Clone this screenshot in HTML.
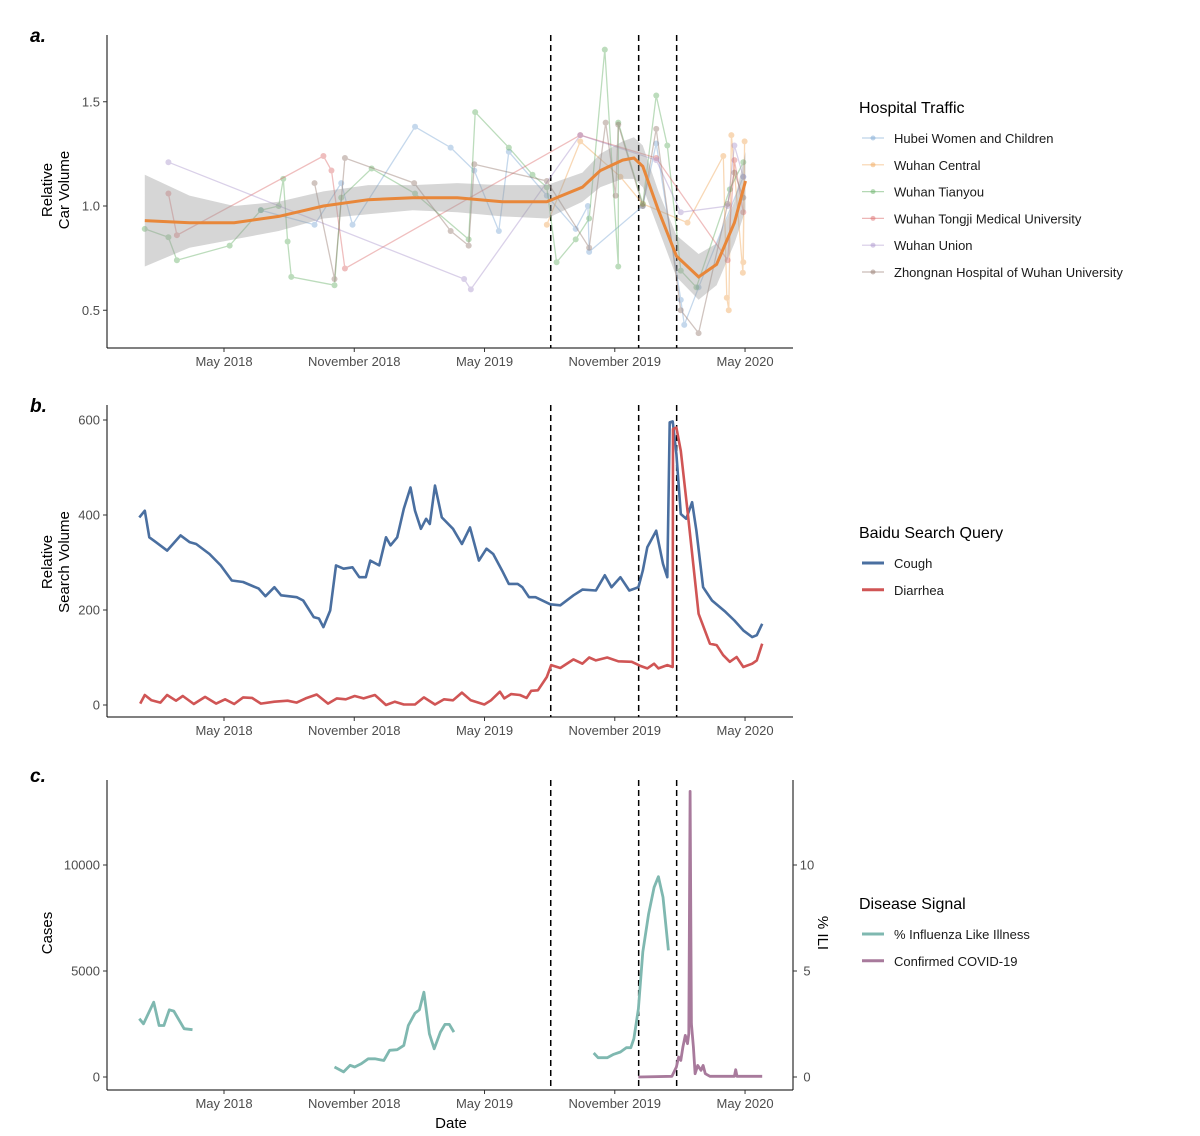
<!DOCTYPE html>
<html><head><meta charset="utf-8">
<style>
html,body{margin:0;padding:0;background:#fff;}
svg{display:block;font-family:"Liberation Sans",Arial,sans-serif;}
</style></head>
<body>
<svg id="chart" width="1200" height="1136" viewBox="0 0 1200 1136" xmlns="http://www.w3.org/2000/svg"></svg>
<script>
// ---------- DATA (t = months since 2018-01-01) ----------
const monthTicks = [4, 10, 16, 22, 28];
const monthTickLabels = ["May 2018", "November 2018", "May 2019", "November 2019", "May 2020"];
const eventMonths = [19.05, 23.1, 24.85];

// Panel a: hospital traffic
const hospNames = ["Hubei Women and Children","Wuhan Central","Wuhan Tianyou","Wuhan Tongji Medical University","Wuhan Union","Zhongnan Hospital of Wuhan University"];
const hubeiT = [5.70,8.17,9.40,9.92,12.8,14.44,15.53,16.66,17.12,18.87,20.2,20.76,20.82,23.29,23.91,25.04,25.2,25.86,27.92];
const hubeiV = [0.98,0.91,1.11,0.91,1.38,1.28,1.17,0.88,1.26,1.05,0.89,1.0,0.78,1.0,1.30,0.55,0.43,0.61,1.14];
const centralT = [18.87,20.41,22.26,23.29,25.35,27.0,27.16,27.25,27.37,27.9,27.98,27.92];
const centralV = [0.91,1.31,1.14,1.01,0.92,1.24,0.56,0.50,1.34,0.68,1.31,0.73];
const tianyouT = [0.35,1.44,1.83,4.26,5.70,6.52,6.73,6.93,7.1,9.09,9.40,10.8,12.8,15.27,15.57,17.12,18.21,18.87,19.32,20.2,20.82,21.54,22.16,22.16,23.29,23.91,24.42,25.04,25.76,27.3,27.92];
const tianyouV = [0.89,0.85,0.74,0.81,0.98,1.0,1.13,0.83,0.66,0.62,1.04,1.18,1.06,0.84,1.45,1.28,1.15,1.09,0.73,0.84,0.94,1.75,0.71,1.40,1.01,1.53,1.29,0.69,0.61,1.08,1.21];
const tongjiT = [1.44,1.83,8.58,8.95,9.57,20.41,23.91,27.2,27.51,27.92];
const tongjiV = [1.06,0.86,1.24,1.17,0.70,1.34,1.23,0.74,1.22,0.97];
const unionT = [1.44,15.06,15.37,20.41,23.91,25.04,27.2,27.51,27.92];
const unionV = [1.21,0.65,0.60,1.34,1.22,0.97,1.0,1.29,1.14];
const zhongnanT = [8.17,9.09,9.57,12.76,14.44,15.27,15.53,18.87,20.82,21.58,22.04,22.16,23.29,23.91,25.04,25.86,27.2,27.51,27.92];
const zhongnanV = [1.11,0.65,1.23,1.11,0.88,0.81,1.20,1.12,0.80,1.40,1.05,1.39,1.0,1.37,0.50,0.39,1.01,1.16,1.04];
const fitT = [0.35,2.41,4.47,6.52,8.58,10.64,12.69,14.75,16.81,18.87,20.51,21.33,22.36,22.88,23.29,24.01,24.84,25.86,26.69,27.51,28.02];
const fitV = [0.93,0.92,0.92,0.95,1.0,1.03,1.04,1.04,1.02,1.02,1.09,1.17,1.22,1.23,1.19,0.98,0.76,0.66,0.72,0.92,1.12];
const fitUpper = [1.15,1.05,1.0,1.02,1.07,1.10,1.10,1.11,1.10,1.10,1.16,1.25,1.31,1.33,1.29,1.07,0.86,0.77,0.82,1.02,1.26];
const fitLower = [0.71,0.80,0.84,0.88,0.94,0.96,0.98,0.97,0.95,0.94,1.02,1.09,1.13,1.13,1.09,0.89,0.66,0.55,0.62,0.82,0.98];
const aTicks = [0.5, 1.0, 1.5];

// Panel b: Baidu search
const coughT = [0.10,0.35,0.56,0.86,1.38,2.00,2.41,2.72,3.33,3.85,4.36,4.88,5.60,5.91,6.32,6.63,7.35,7.65,8.13,8.37,8.58,8.89,9.16,9.51,9.92,10.23,10.53,10.74,11.15,11.46,11.67,11.98,12.28,12.59,12.80,13.07,13.31,13.48,13.72,14.03,14.55,14.96,15.33,15.74,16.09,16.40,16.81,17.12,17.53,17.74,18.05,18.35,19.03,19.49,20.10,20.51,21.13,21.54,21.85,22.26,22.67,23.09,23.29,23.50,23.91,24.22,24.42,24.53,24.67,24.84,25.04,25.29,25.56,25.76,26.07,26.48,27.10,27.51,27.92,28.33,28.54,28.79];
const coughV = [395,409,353,343,325,357,343,339,318,294,262,259,245,229,248,231,227,220,185,182,164,199,294,287,290,269,269,304,294,353,336,353,413,458,409,371,392,381,462,395,371,339,374,304,329,318,283,255,255,248,227,227,212,210,231,243,241,273,248,269,241,248,283,332,367,297,269,595,597,528,402,392,427,367,248,220,196,178,157,143,147,171];
const diarT = [0.14,0.35,0.66,1.07,1.38,1.79,2.10,2.61,3.13,3.64,4.05,4.47,4.88,5.29,5.70,6.32,6.93,7.35,7.76,8.27,8.79,9.20,9.61,10.02,10.43,10.95,11.46,11.87,12.28,12.80,13.21,13.72,14.14,14.55,14.96,15.37,15.99,16.30,16.71,16.91,17.22,17.63,17.94,18.15,18.46,18.87,19.07,19.49,20.10,20.51,20.82,21.13,21.65,22.16,22.78,23.19,23.50,23.81,24.01,24.42,24.67,24.68,24.84,25.04,25.35,25.86,26.38,26.69,26.99,27.30,27.61,27.92,28.33,28.54,28.79];
const diarV = [3,21,10,5,21,9,19,2,17,3,12,2,16,15,3,7,9,5,14,22,3,14,12,19,14,21,0,7,1,1,16,1,12,10,26,10,1,10,28,14,23,21,15,30,31,59,84,78,96,87,100,94,100,92,91,82,77,87,77,84,80,581,584,535,409,192,129,126,105,91,101,80,87,94,129];
const bTicks = [0, 200, 400, 600];

// Panel c: disease signal
const ili1T = [0.10,0.29,0.76,1.01,1.23,1.48,1.69,2.16,2.55];
const ili1V = [2.75,2.51,3.53,2.43,2.43,3.17,3.11,2.28,2.23];
const ili2T = [9.09,9.51,9.81,10.02,10.33,10.64,10.95,11.36,11.63,11.98,12.28,12.49,12.80,13.00,13.21,13.46,13.68,13.97,14.18,14.38,14.59];
const ili2V = [0.47,0.24,0.55,0.47,0.63,0.86,0.86,0.78,1.26,1.29,1.49,2.43,3.01,3.17,4.00,2.04,1.33,2.12,2.48,2.48,2.12];
const ili3T = [21.03,21.23,21.65,21.95,22.26,22.53,22.74,22.88,23.09,23.29,23.56,23.81,24.01,24.22,24.47];
const ili3V = [1.13,0.91,0.91,1.07,1.18,1.38,1.38,1.81,3.22,5.89,7.69,8.95,9.45,8.48,5.97];
const covidT = [23.09,24.63,24.84,24.94,25.04,25.14,25.25,25.35,25.41,25.47,25.53,25.62,25.70,25.82,25.97,26.07,26.17,26.38,27.51,27.57,27.63,28.79];
const covidV = [0,31,471,942,785,1413,1962,1570,2041,13470,2512,1413,157,549,314,549,157,31,31,345,31,31];
const cTicks = [0, 5000, 10000];
const iliTicks = [0, 5, 10];

// ---------- SCALES ----------
const X0 = 107, X1 = 793;
function xs(t){ return 224 + (t - 4) * 21.71; }
function ya(v){ return 206 - (v - 1) * 208.5; }
function yb(v){ return 705 - v * 0.475; }
function yc(v){ return 1077 - v * 0.0212; }
function yi(v){ return 1077 - v * 21.2; }

const svg = document.getElementById('chart');
const NS = "http://www.w3.org/2000/svg";
function mk(tag, attrs, parent){
  const e = document.createElementNS(NS, tag);
  for (const k in attrs) e.setAttribute(k, attrs[k]);
  (parent || svg).appendChild(e);
  return e;
}
function txt(s, attrs, parent){ const e = mk('text', attrs, parent); e.textContent = s; return e; }
function pathOf(T, V, yf){ return T.map((t,i)=>(i?'L':'M')+xs(t).toFixed(1)+','+yf(V[i]).toFixed(1)).join(''); }

function frame(top, bottom, yTicks, yf, fmt, name){
  const g = mk('g', {});
  
  
  mk('line', {x1:X0, y1:top, x2:X0, y2:bottom, stroke:'#000', 'stroke-width':1}, g);
  mk('line', {x1:X0, y1:bottom, x2:X1, y2:bottom, stroke:'#000', 'stroke-width':1}, g);
  yTicks.forEach(v=>{
    const y = yf(v);
    mk('line', {x1:X0-4, y1:y, x2:X0, y2:y, stroke:'#333'}, g);
    const l = txt(fmt(v), {x:X0-7, y:y+4.5, 'text-anchor':'end', 'font-size':13, fill:'#4d4d4d'}, g);
    
    
  });
  monthTicks.forEach((t,i)=>{
    const x = xs(t);
    mk('line', {x1:x, y1:bottom, x2:x, y2:bottom+4, stroke:'#333'}, g);
    const l = txt(monthTickLabels[i], {x:x, y:bottom+18, 'text-anchor':'middle', 'font-size':13, fill:'#4d4d4d'}, g);
    
    
  });
  eventMonths.forEach(t=>{
    const d = mk('line', {x1:xs(t), y1:top, x2:xs(t), y2:bottom, stroke:'#000', 'stroke-width':1.5, 'stroke-dasharray':'6,4'}, g);
    
    
  });
}
function panelLabel(s, y){
  const e = txt(s, {x:30, y:y, 'font-size':19, 'font-weight':'bold', 'font-style':'italic'});
  
  
}
function yTitle(lines, cx, cy, rot, name){
  const e = txt('', {transform:`translate(${cx},${cy}) rotate(${rot})`, 'text-anchor':'middle', 'font-size':15});
  
  
  lines.forEach((s,i)=>{ const ts = mk('tspan', {x:0, dy: i? 17 : (lines.length>1?-3:5)}, e); ts.textContent = s; });
}
function legend(title, y0, names, colors, opac, pts, name){
  const g = mk('g', {});
  
  
  txt(title, {x:859, y:y0, 'font-size':16}, g);
  names.forEach((n,i)=>{
    const y = y0 + 30 + i*26.8;
    const it = mk('g', {}, g);
    
    
    mk('line', {x1:862, y1:y-5, x2:884, y2:y-5, stroke:colors[i], 'stroke-width':pts?1.2:3, opacity:opac}, it);
    if (pts) mk('circle', {cx:873, cy:y-5, r:2.5, fill:colors[i], opacity:opac}, it);
    txt(n, {x:894, y:y, 'font-size':13, fill:'#1a1a1a'}, it);
  });
}

// ---------- PANEL A ----------
panelLabel('a.', 42);
yTitle(['Relative','Car Volume'], 55, 190, -90, 'y-axis-title-car-volume');
frame(35, 348, aTicks, ya, v=>v.toFixed(1), 'panel-a');
const hospColors = ['#6f9fd0','#f0a04b','#5aaa5a','#d95f5f','#a38cc8','#8c6d62'];
const hospT = [hubeiT, centralT, tianyouT, tongjiT, unionT, zhongnanT];
const hospV = [hubeiV, centralV, tianyouV, tongjiV, unionV, zhongnanV];
hospT.forEach((T,k)=>{
  const g = mk('g', {opacity:0.4});
  
  
  mk('path', {d:pathOf(T, hospV[k], ya), fill:'none', stroke:hospColors[k], 'stroke-width':1.3}, g);
  T.forEach((t,i)=>{
    const c = mk('circle', {cx:xs(t), cy:ya(hospV[k][i]), r:3, fill:hospColors[k]}, g);
    
    
  });
});
const band = mk('path', {d: pathOf(fitT, fitUpper, ya) + fitT.slice().reverse().map((t,i)=>'L'+xs(t).toFixed(1)+','+ya(fitLower[fitT.length-1-i]).toFixed(1)).join('') + 'Z', fill:'#999', opacity:0.4});


const fitLine = mk('path', {d:pathOf(fitT, fitV, ya), fill:'none', stroke:'#e8873a', 'stroke-width':3});


legend('Hospital Traffic', 113, hospNames, hospColors, 0.45, true, 'legend-hospital-traffic');

// ---------- PANEL B ----------
panelLabel('b.', 412);
yTitle(['Relative','Search Volume'], 55, 562, -90, 'y-axis-title-search-volume');
frame(405, 717, bTicks, yb, v=>String(v), 'panel-b');
const cough = mk('path', {d:pathOf(coughT, coughV, yb), fill:'none', stroke:'#4a6fa0', 'stroke-width':2.6, 'stroke-linejoin':'round'});


const diar = mk('path', {d:pathOf(diarT, diarV, yb), fill:'none', stroke:'#d05555', 'stroke-width':2.6, 'stroke-linejoin':'round'});


legend('Baidu Search Query', 538, ['Cough','Diarrhea'], ['#4a6fa0','#d05555'], 1, false, 'legend-baidu-search');

// ---------- PANEL C ----------
panelLabel('c.', 782);
yTitle(['Cases'], 47, 933, -90, 'y-axis-title-cases');
yTitle(['% ILI'], 823, 933, 90, 'y-axis-title-ili');
frame(780, 1090, cTicks, yc, v=>String(v), 'panel-c');
const rg = mk('g', {});


mk('line', {x1:X1, y1:780, x2:X1, y2:1090, stroke:'#000'}, rg);
iliTicks.forEach(v=>{
  mk('line', {x1:X1, y1:yi(v), x2:X1+4, y2:yi(v), stroke:'#333'}, rg);
  txt(String(v), {x:X1+14, y:yi(v)+4.5, 'font-size':13, fill:'#4d4d4d', 'text-anchor':'middle'}, rg);
});
[[ili1T,ili1V],[ili2T,ili2V],[ili3T,ili3V]].forEach(([T,V])=>{
  const p = mk('path', {d:pathOf(T, V, yi), fill:'none', stroke:'#7fb8b0', 'stroke-width':2.8, 'stroke-linejoin':'round'});
  
  
});
const cov = mk('path', {d:pathOf(covidT, covidV, yc), fill:'none', stroke:'#a87a9c', 'stroke-width':2.8, 'stroke-linejoin':'round'});


legend('Disease Signal', 909, ['% Influenza Like Illness','Confirmed COVID-19'], ['#7fb8b0','#a87a9c'], 1, false, 'legend-disease-signal');
const xt = txt('Date', {x:451, y:1128, 'text-anchor':'middle', 'font-size':15});


</script>
</body></html>
